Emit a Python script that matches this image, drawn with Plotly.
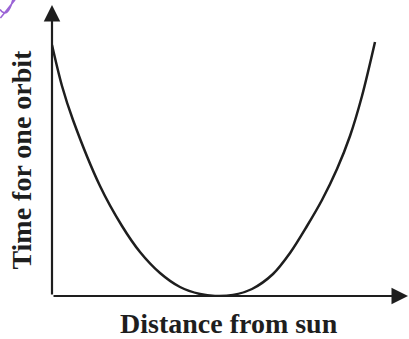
import plotly.graph_objects as go

# Orbit period against distance from the sun (arbitrary units, no scale shown)
distance = [0, 10, 21, 48, 70, 88, 108, 128, 148, 163, 181, 200, 221, 238, 255, 270, 285, 298, 310, 323]
orbit_time = [251, 210, 176, 110, 70, 44, 23, 9, 2, 0, 1, 7, 22, 43, 70, 96, 127, 160, 200, 254]

x_label = "Distance from sun"
y_label = "Time for one orbit"

X_MAX = 356
Y_MAX = 291
INK = "#1e1e1e"
FONT = "Liberation Serif, Times New Roman, serif"

fig = go.Figure()
fig.add_trace(go.Scatter(
    x=distance, y=orbit_time, mode="lines",
    line=dict(color=INK, width=2.5, shape="spline", smoothing=0.9),
    cliponaxis=False, hoverinfo="skip",
))

# Axes drawn as arrows from the origin
for hx, hy in [(X_MAX, 0), (0, Y_MAX)]:
    fig.add_annotation(
        x=hx, y=hy, ax=0, ay=0, xref="x", yref="y", axref="x", ayref="y",
        showarrow=True, arrowhead=2, arrowsize=1.5, arrowwidth=2.2,
        arrowcolor=INK, text="",
    )

fig.add_annotation(
    text=f"<b>{x_label}</b>", xref="paper", yref="paper",
    x=0.497, y=-0.093, xanchor="center", yanchor="middle", showarrow=False,
    font=dict(family=FONT, size=28, color=INK),
)
fig.add_annotation(
    text=f"<b>{y_label}</b>", xref="paper", yref="paper",
    x=-0.086, y=0.47, xanchor="center", yanchor="middle", showarrow=False,
    textangle=-90, font=dict(family=FONT, size=28, color=INK),
)

# Pen mark in the top-left corner
fig.add_shape(
    type="path", xref="paper", yref="paper",
    path="M -0.146 0.985 Q -0.125 0.95 -0.11 1.018 M -0.145 0.955 Q -0.125 0.985 -0.104 1.018",
    line=dict(color="#9b64d6", width=1.6),
)

fig.update_xaxes(range=[0, X_MAX], visible=False, fixedrange=True)
fig.update_yaxes(range=[0, Y_MAX], visible=False, fixedrange=True)
fig.update_layout(
    width=409, height=339,
    margin=dict(l=52, r=1, t=5, b=43),
    paper_bgcolor="white", plot_bgcolor="white",
    showlegend=False,
)

fig.write_html("out.html")
